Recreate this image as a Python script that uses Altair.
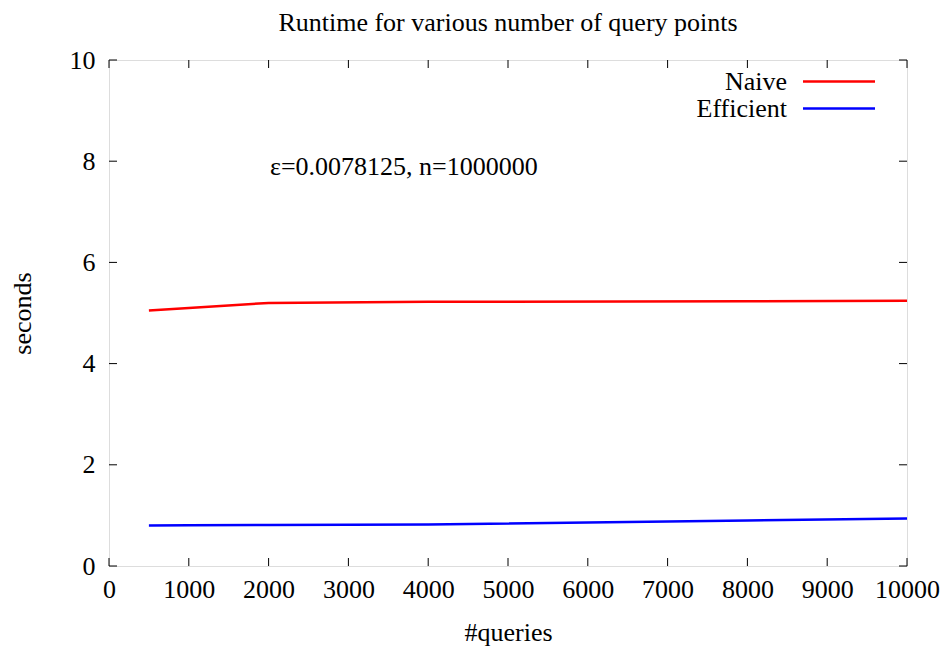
import altair as alt
import pandas as pd

queries = [500, 1000, 2000, 4000, 8000, 10000]
naive = [5.05, 5.10, 5.20, 5.22, 5.23, 5.24]
efficient = [0.80, 0.805, 0.81, 0.82, 0.90, 0.94]
series = ["Naive", "Efficient"]
colors = ["#ff0000", "#0000ff"]
x_ticks = [0, 1000, 2000, 3000, 4000, 5000, 6000, 7000, 8000, 9000, 10000]
y_ticks = [0, 2, 4, 6, 8, 10]

W, H = 798, 506
FONT = "Liberation Serif"
FS = 26

rows = []
for q, a, b in zip(queries, naive, efficient):
    rows.append({"queries": q, "seconds": a, "series": "Naive"})
    rows.append({"queries": q, "seconds": b, "series": "Efficient"})
df = pd.DataFrame(rows)

xs = alt.Scale(domain=[0, 10000], nice=False)
ys = alt.Scale(domain=[0, 10], nice=False)
cs = alt.Scale(domain=series, range=colors)

lines = alt.Chart(df).mark_line(strokeWidth=2.5).encode(
    x=alt.X("queries:Q", scale=xs, title="#queries",
            axis=alt.Axis(values=x_ticks, format="d", grid=False, ticks=False, domain=False,
                          labelOverlap=False, labelFlush=False,
                          labelFontSize=FS, labelFont=FONT, labelColor="black",
                          labelPadding=10, titleFont=FONT, titleFontSize=FS,
                          titleFontWeight="normal", titleColor="black", titlePadding=17)),
    y=alt.Y("seconds:Q", scale=ys, title="seconds",
            axis=alt.Axis(values=y_ticks, format="d", grid=False, ticks=False, domain=False,
                          labelOverlap=False, labelFlush=False,
                          labelFontSize=FS, labelFont=FONT, labelColor="black",
                          labelPadding=14, titleFont=FONT, titleFontSize=FS,
                          titleFontWeight="normal", titleColor="black", titlePadding=34)),
    color=alt.Color("series:N", scale=cs, legend=None),
)

xt = pd.DataFrame({"v": x_ticks})
yt = pd.DataFrame({"v": y_ticks})
tick_color = "black"
xb = alt.Chart(xt).mark_rule(color=tick_color, strokeWidth=1).encode(
    x=alt.X("v:Q", scale=xs), y=alt.value(H), y2=alt.value(H - 8))
xtop = alt.Chart(xt).mark_rule(color=tick_color, strokeWidth=1).encode(
    x=alt.X("v:Q", scale=xs), y=alt.value(0), y2=alt.value(8))
yl = alt.Chart(yt).mark_rule(color=tick_color, strokeWidth=1).encode(
    y=alt.Y("v:Q", scale=ys), x=alt.value(0), x2=alt.value(8))
yr = alt.Chart(yt).mark_rule(color=tick_color, strokeWidth=1).encode(
    y=alt.Y("v:Q", scale=ys), x=alt.value(W), x2=alt.value(W - 8))

leg_y = [21.5, 48.5]
legend_layers = []
for name, col, ly in zip(series, colors, leg_y):
    d = pd.DataFrame({"series": [name]})
    legend_layers.append(
        alt.Chart(d).mark_text(align="right", baseline="middle", font=FONT,
                               fontSize=FS, color="black").encode(
            text="series:N", x=alt.value(678), y=alt.value(ly))
    )
    legend_layers.append(
        alt.Chart(d).mark_rule(strokeWidth=2.5, color=col).encode(
            x=alt.value(694), x2=alt.value(766), y=alt.value(ly))
    )

annot = alt.Chart(pd.DataFrame({"t": ["ε=0.0078125, n=1000000"]})).mark_text(
    align="left", baseline="middle", font=FONT, fontSize=FS, color="black").encode(
    text="t:N", x=alt.value(161), y=alt.value(107))

chart = alt.layer(lines, xb, xtop, yl, yr, *legend_layers, annot).properties(
    width=W, height=H,
    title=alt.TitleParams("Runtime for various number of query points", font=FONT,
                          fontSize=FS, fontWeight="normal", color="black",
                          anchor="middle", offset=11),
    autosize=alt.AutoSizeParams(type="none"),
    padding={"left": 101, "top": 52, "right": 34, "bottom": 84},
).configure_view(stroke="black", strokeWidth=1.5).configure(background="white")

chart.save("out.html", embed_options={"renderer": "svg", "actions": False})
